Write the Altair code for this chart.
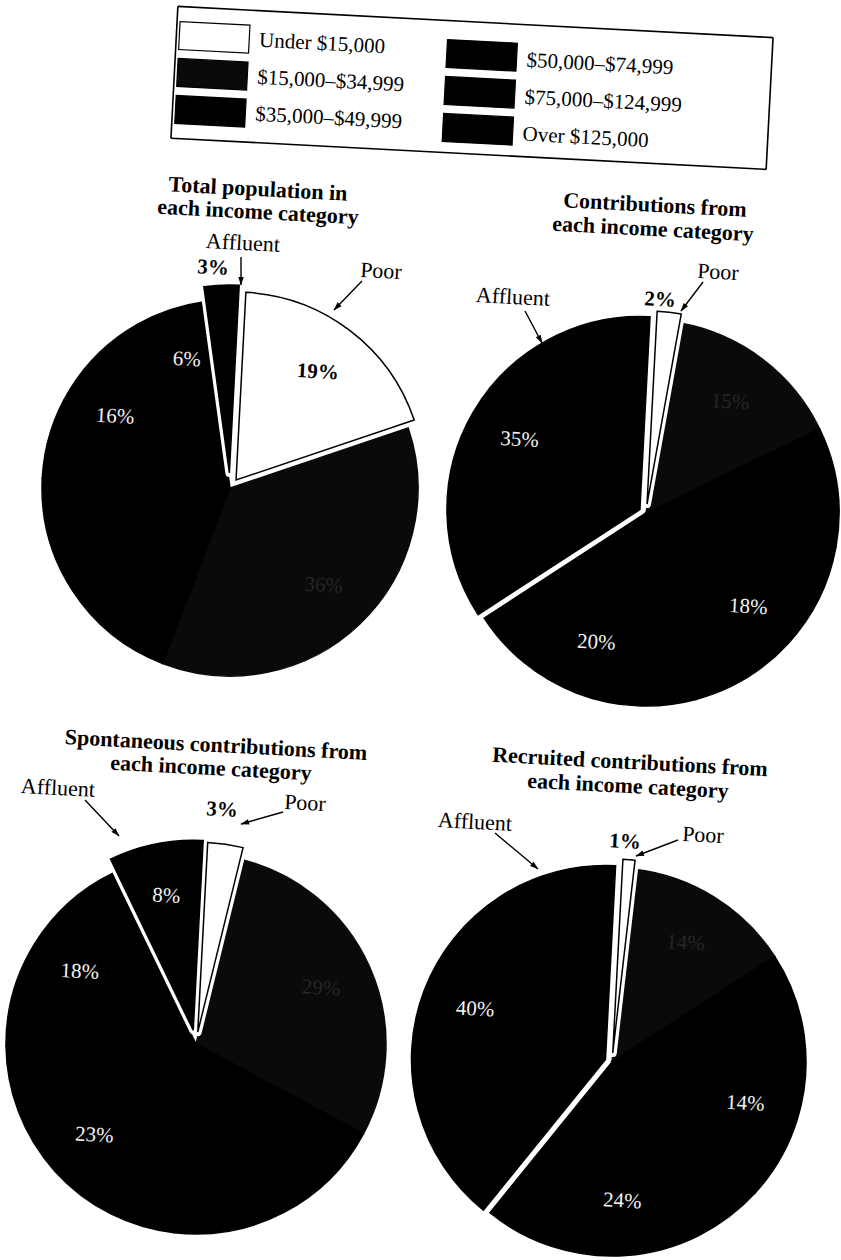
import math
import altair as alt
import pandas as pd

# ---------------------------------------------------------------- data
categories = [
    "Under $15,000",
    "$15,000–$34,999",
    "$35,000–$49,999",
    "$50,000–$74,999",
    "$75,000–$124,999",
    "Over $125,000",
]
pie_titles = [
    ["Total population in", "each income category"],
    ["Contributions from", "each income category"],
    ["Spontaneous contributions from", "each income category"],
    ["Recruited contributions from", "each income category"],
]
population_share = [19, 36, 20, 16, 6, 3]
contribution_share = [2, 15, 10, 18, 20, 35]
spontaneous_share = [3, 29, 19, 23, 18, 8]
recruited_share = [1, 14, 7, 14, 24, 40]
group_names = ["Poor", "Affluent"]

series = [population_share, contribution_share, spontaneous_share, recruited_share]

# ---------------------------------------------------------------- layout
TILT = 3.0                      # the whole page sits slightly rotated
OFF = math.radians(TILT)
LABEL_R = 0.72                  # label distance as a share of the radius
SERIF = "Liberation Serif"
palette = ["#ffffff", "#0a0a0a", "#000000", "#000000", "#000000", "#000000"]
color_scale = alt.Scale(domain=categories, range=palette)
theta_scale = alt.Scale(domain=[0, 100], range=[OFF, OFF + 2 * math.pi])

pies = [
    dict(cx=230, cy=488, r=188, explode={0: 10, 5: 15}),
    dict(cx=646, cy=513, r=193, explode={0: 9, 5: 7}),
    dict(cx=196, cy=1044, r=190, explode={0: 12, 5: 14}),
    dict(cx=612, cy=1062, r=194, explode={0: 9, 5: 7}),
]

rows = []
for p, (vals, geo) in enumerate(zip(series, pies)):
    for i, (cat, v) in enumerate(zip(categories, vals)):
        rows.append(dict(pie=p, idx=i, cat=cat, value=v, cx=geo["cx"], cy=geo["cy"],
                         R=geo["r"], ex=geo["explode"].get(i, 0)))
slices = pd.DataFrame(rows)

base = (
    alt.Chart(slices)
    .transform_window(cum="sum(value)", groupby=["pie"],
                      sort=[alt.SortField("idx", order="ascending")], frame=[None, 0])
    .transform_calculate(
        t0="datum.cum - datum.value",
        mid=f"(datum.cum - datum.value / 2) / 100 * 2 * PI + {OFF}",
        px="datum.cx + datum.ex * sin(datum.mid)",
        py="datum.cy - datum.ex * cos(datum.mid)",
        lx=f"datum.px + {LABEL_R} * datum.R * sin(datum.mid)",
        ly=f"datum.py - {LABEL_R} * datum.R * cos(datum.mid)",
        label="datum.value + '%'",
    )
)

arc_enc = dict(
    x=alt.X("px:Q", scale=None, axis=None),
    y=alt.Y("py:Q", scale=None, axis=None),
    theta=alt.Theta("t0:Q", scale=theta_scale),
    theta2=alt.Theta2("cum:Q"),
    radius=alt.Radius("R:Q", scale=None),
)

main_slices = base.transform_filter("datum.ex == 0").mark_arc(strokeWidth=1.5).encode(
    color=alt.Color("cat:N", scale=color_scale, legend=None),
    stroke=alt.Stroke("cat:N", scale=color_scale, legend=None),
    **arc_enc,
)
halo = base.transform_filter("datum.ex > 0").mark_arc(
    fill="white", stroke="white", strokeWidth=8, strokeJoin="round"
).encode(**arc_enc)
exploded = base.transform_filter("datum.ex > 0").mark_arc(
    stroke="black", strokeWidth=1.5, strokeJoin="miter"
).encode(color=alt.Color("cat:N", scale=color_scale, legend=None), **arc_enc)

lab_enc = dict(
    x=alt.X("lx:Q", scale=None, axis=None),
    y=alt.Y("ly:Q", scale=None, axis=None),
    text="label:N",
)
white_labels = base.transform_filter("datum.idx >= 3 && datum.value >= 5").mark_text(
    font=SERIF, fontSize=21, color="#f2f2f2", angle=TILT, baseline="middle"
).encode(**lab_enc)
faint_labels = base.transform_filter("datum.idx == 1").mark_text(
    font=SERIF, fontSize=21, color="#262626", angle=TILT, baseline="middle"
).encode(**lab_enc)
poor_labels = base.transform_filter("datum.idx == 0 && datum.value >= 5").mark_text(
    font=SERIF, fontSize=21, fontWeight="bold", color="black", angle=TILT, baseline="middle"
).encode(**lab_enc)

# ---------------------------------------------------------------- titles & callouts
title_pos = [[(258, 189), (258, 212)], [(655, 205), (653, 229)],
             [(216, 745), (211, 768)], [(630, 762), (628, 786)]]
titles = pd.DataFrame([
    dict(text=line, x=xy[0], y=xy[1])
    for lines, pos in zip(pie_titles, title_pos) for line, xy in zip(lines, pos)
])

# (pie, slice index) -> where its small percentage sits outside the pie
outside_pos = {(0, 5): (213, 268), (1, 0): (660, 300), (2, 0): (222, 810), (3, 0): (625, 842)}
pct = pd.DataFrame([
    dict(text=f"{series[p][i]}%", x=xy[0], y=xy[1]) for (p, i), xy in outside_pos.items()
])

callouts = [  # name, text position, arrow tail, arrow tip
    ("Affluent", (243, 243), (241, 257), (241, 285)),
    ("Poor", (381, 271), (362, 281), (334, 310)),
    ("Affluent", (513, 297), (525, 311), (542, 343)),
    ("Poor", (718, 272), (703, 282), (681, 311)),
    ("Affluent", (58, 788), (85, 800), (119, 836)),
    ("Poor", (305, 803), (283, 812), (241, 824)),
    ("Affluent", (475, 822), (495, 833), (538, 869)),
    ("Poor", (703, 835), (678, 840), (636, 856)),
]
names = pd.DataFrame([dict(text=n, x=t[0], y=t[1]) for n, t, _, _ in callouts])
shafts = pd.DataFrame([dict(x=a[0], y=a[1], x2=b[0], y2=b[1]) for _, _, a, b in callouts])
heads = []
for _, _, a, b in callouts:
    dx, dy = b[0] - a[0], b[1] - a[1]
    n = math.hypot(dx, dy)
    heads.append(dict(x=b[0] - 4.5 * dx / n, y=b[1] - 4.5 * dy / n,
                      ang=math.degrees(math.atan2(dx, -dy)) % 360))
heads = pd.DataFrame(heads)

xy = dict(x=alt.X("x:Q", scale=None, axis=None), y=alt.Y("y:Q", scale=None, axis=None))

title_layer = alt.Chart(titles).mark_text(
    font=SERIF, fontSize=22, fontWeight="bold", angle=TILT, align="center", baseline="middle"
).encode(text="text:N", **xy)
pct_layer = alt.Chart(pct).mark_text(
    font=SERIF, fontSize=21, fontWeight="bold", angle=TILT, align="center", baseline="middle"
).encode(text="text:N", **xy)
name_layer = alt.Chart(names).mark_text(
    font=SERIF, fontSize=22, angle=TILT, align="center", baseline="middle"
).encode(text="text:N", **xy)
shaft_layer = alt.Chart(shafts).mark_rule(color="black", strokeWidth=1.4).encode(
    x2="x2:Q", y2="y2:Q", **xy
)
head_layer = alt.Chart(heads).mark_point(
    shape="M0,-1L0.55,0.7L-0.55,0.7Z", size=100, filled=True, color="black", opacity=1
).encode(angle=alt.Angle("ang:Q", scale=None), **xy)

# ---------------------------------------------------------------- legend box
LC = (474, 88)


def rot(u, v):
    c, s = math.cos(OFF), math.sin(OFF)
    return LC[0] + u * c - v * s, LC[1] + u * s + v * c


leg_rows = []
for i, cat in enumerate(categories):
    col, row = divmod(i, 3)
    su = -262 if col == 0 else 6
    sv = -37 + 37 * row + (0 if col == 0 else 4)
    sx, sy = rot(su, sv)
    tx, ty = rot(su + 45, sv + (1 if col == 0 else 3))
    leg_rows.append(dict(cat=cat, sx=sx, sy=sy, tx=tx, ty=ty))
legend_df = pd.DataFrame(leg_rows)

swatches = alt.Chart(legend_df).mark_point(
    shape="M-1,-0.4L1,-0.4L1,0.4L-1,0.4Z", size=70 ** 2, angle=TILT,
    filled=True, stroke="black", strokeWidth=1.2, opacity=1,
).encode(
    x=alt.X("sx:Q", scale=None, axis=None),
    y=alt.Y("sy:Q", scale=None, axis=None),
    fill=alt.Fill("cat:N", scale=color_scale, legend=None),
)
legend_text = alt.Chart(legend_df).mark_text(
    font=SERIF, fontSize=21, angle=TILT, align="left", baseline="middle"
).encode(
    x=alt.X("tx:Q", scale=None, axis=None),
    y=alt.Y("ty:Q", scale=None, axis=None),
    text="cat:N",
)
corners = [rot(-300, -66), rot(296, -66), rot(296, 66), rot(-300, 66)]
box = pd.DataFrame([
    dict(x=corners[k][0], y=corners[k][1], x2=corners[(k + 1) % 4][0], y2=corners[(k + 1) % 4][1])
    for k in range(4)
])
box_layer = alt.Chart(box).mark_rule(color="black", strokeWidth=1.6).encode(
    x2="x2:Q", y2="y2:Q", **xy
)

chart = alt.layer(
    main_slices, halo, exploded,
    white_labels, faint_labels, poor_labels,
    title_layer, pct_layer, name_layer, shaft_layer, head_layer,
    box_layer, swatches, legend_text,
).properties(
    width=841, height=1260, padding=0, autosize="none", background="white"
).configure_view(stroke=None)

chart.save("out.html", embed_options={"renderer": "svg", "actions": False})
